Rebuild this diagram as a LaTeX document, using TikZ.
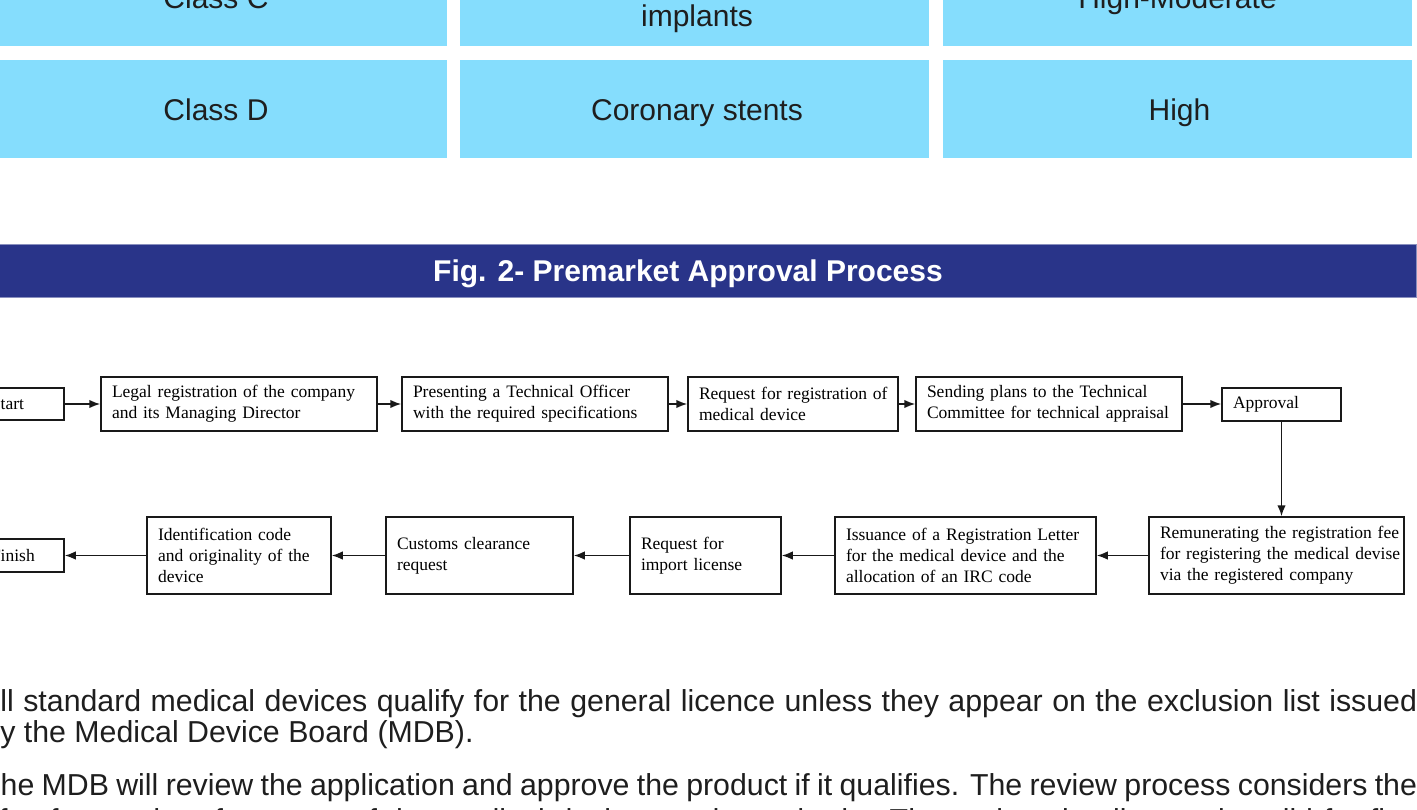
\documentclass[tikz,border=0pt]{standalone}
\usepackage{fontspec}
\setmainfont{Liberation Sans}
\newfontfamily\timesf{Liberation Serif}
\usetikzlibrary{arrows.meta}
\definecolor{cellblue}{RGB}{133,221,253}
\definecolor{barblue}{RGB}{41,52,137}
\definecolor{linegray}{RGB}{25,25,25}
\definecolor{inkgray}{RGB}{30,30,30}
\newcommand{\flowline}[1]{\mbox{#1}}
\begin{document}
\begin{tikzpicture}[x=1pt,y=-1pt,
  cell/.style={fill=cellblue, draw=none, inner sep=0pt, minimum height=98pt,
    text height=22pt, text depth=0pt, text=inkgray, font=\fontsize{30}{36}\selectfont},
  celltext/.style={inner sep=0pt, anchor=base, text=inkgray, font=\fontsize{30}{36}\selectfont},
  titlebar/.style={fill=barblue, draw=barblue!55, line width=0.8pt, inner sep=0pt,
    minimum width=1456pt, minimum height=53pt, text height=21.5pt, text depth=0pt,
    text=white, font=\bfseries\fontsize{30}{36}\selectfont},
  fbox/.style={draw=linegray, line width=1.5pt, fill=white, inner xsep=11pt, inner ysep=0pt,
    align=left, text=black, font=\timesf\fontsize{17.5}{21}\selectfont},
  arr/.style={draw=linegray, line width=1.6pt, -{Latex[length=11pt,width=8.5pt]}},
  body/.style={inner sep=0pt, anchor=base west, text=inkgray, font=\fontsize{30.3}{33}\selectfont}
]
\useasboundingbox (0,0) rectangle (1417,809);
\clip (0,0) rectangle (1417,809);
\fill[white] (0,0) rectangle (1417,809);

% table rows
\node[cell, minimum width=462pt] (c1) at (216,-3) {Class C};
\node[cell, minimum width=469pt] (c2) at (694.5,-3) {};
\node[celltext] (c2t) at (697,26) {implants};
\node[cell, minimum width=469pt] (c3) at (1177.5,-3) {High-Moderate};
\node[cell, minimum width=462pt] (d1) at (216,109) {Class D};
\node[cell, minimum width=469pt] (d2) at (694.5,109) {\hspace*{5pt}Coronary stents};
\node[cell, minimum width=469pt] (d3) at (1177.5,109) {\hspace*{4pt}High};

% title bar
\node[titlebar] (bar) at (688,270.5) {Fig. 2- Premarket Approval Process};

% flow row 1
\node[fbox, minimum width=84pt, minimum height=32pt, text width=62pt] (start) at (22,404) {Start};
\node[fbox, minimum width=276pt, minimum height=54pt, text width=254pt] (legal) at (239,404)
  {\flowline{Legal registration of the company}\\\flowline{and its Managing Director}};
\node[fbox, minimum width=266pt, minimum height=54pt, text width=244pt] (present) at (535,404)
  {\flowline{Presenting a Technical Officer}\\\flowline{with the required specifications}};
\node[fbox, minimum width=210pt, minimum height=54pt, text width=188pt] (reqreg) at (793,404)
  {\flowline{Request for registration of}\\\flowline{medical device}};
\node[fbox, minimum width=266pt, minimum height=54pt, text width=244pt] (sending) at (1049,404)
  {\flowline{Sending plans to the Technical}\\\flowline{Committee for technical appraisal}};
\node[fbox, minimum width=119pt, minimum height=33pt, text width=97pt] (approval) at (1281.5,404.5) {Approval};

% flow row 2
\node[fbox, minimum width=255pt, minimum height=77pt, text width=233pt] (remun) at (1276.5,555.5)
  {\flowline{Remunerating the registration fee}\\\flowline{for registering the medical devise}\\\flowline{via the registered company}};
\node[fbox, minimum width=261pt, minimum height=77pt, text width=239pt] (issu) at (965.5,555.5)
  {\flowline{Issuance of a Registration Letter}\\\flowline{for the medical device and the}\\\flowline{allocation of an IRC code}};
\node[fbox, minimum width=151pt, minimum height=77pt, text width=129pt] (reqimp) at (705.5,555.5)
  {\flowline{Request for}\\\flowline{import license}};
\node[fbox, minimum width=187pt, minimum height=77pt, text width=165pt] (customs) at (479.5,555.5)
  {\flowline{Customs clearance}\\\flowline{request}};
\node[fbox, minimum width=184pt, minimum height=77pt, text width=162pt] (ident) at (239,555.5)
  {\flowline{Identification code}\\\flowline{and originality of the}\\\flowline{device}};
\node[fbox, minimum width=84pt, minimum height=33pt, text width=62pt] (finish) at (22,555.5) {Finish};

% connectors
\draw[arr] (start.east) -- (legal.west);
\draw[arr] (legal.east) -- (present.west);
\draw[arr] (present.east) -- (reqreg.west);
\draw[arr] (reqreg.east) -- (sending.west);
\draw[arr] (sending.east) -- (sending.east -| approval.west);
\draw[arr] (approval.south) -- (approval.south |- remun.north);
\draw[arr] (remun.west) -- (issu.east);
\draw[arr] (issu.west) -- (reqimp.east);
\draw[arr] (reqimp.west) -- (customs.east);
\draw[arr] (customs.west) -- (ident.east);
\draw[arr] (ident.west) -- (finish.east);

% body text
\node[body] (p1) at (-20,711) {\makebox[1437pt][s]{All standard medical devices qualify for the general licence unless they appear on the exclusion list issued}};
\node[body] (p2) at (-16.7,742) {by the Medical Device Board (MDB).};
\node[body] (p3) at (-18,795) {\makebox[1435pt][s]{The MDB will review the application and approve the product if it qualifies. The review process considers the}};
\node[body] (p4) at (-18,830) {\makebox[1435pt][s]{of safety and performance of the medical devices and standards. The registration licence is valid for five}};
\end{tikzpicture}
\end{document}
